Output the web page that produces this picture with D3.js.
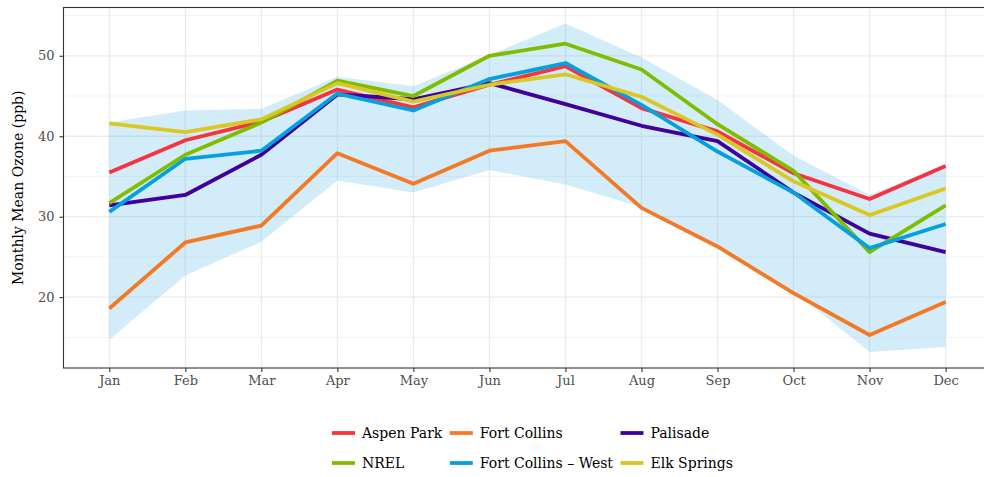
<!DOCTYPE html>
<html><head><meta charset="utf-8">
<script src="https://cdn.jsdelivr.net/npm/d3@7"></script>
<style>
html,body{margin:0;padding:0;background:#fff;}
svg{display:block;}
text{font-family:"DejaVu Serif",serif;}
</style></head>
<body>
<svg id="chart" width="984" height="477"></svg>
<script>
const months = ["Jan","Feb","Mar","Apr","May","Jun","Jul","Aug","Sep","Oct","Nov","Dec"];
const seriesNames = ["Aspen Park","Fort Collins","Palisade","NREL","Fort Collins – West","Elk Springs"];
const seriesColors = ["#f7333e","#f27a24","#40009b","#80bc00","#05a0de","#dac822"];
const aspenPark   = [35.5,39.5,41.8,45.8,43.6,46.4,48.7,43.5,40.6,35.4,32.2,36.3];
const fortCollins = [18.6,26.8,28.9,37.9,34.1,38.2,39.4,31.1,26.3,20.5,15.3,19.4];
const palisade    = [31.4,32.7,37.7,45.2,44.6,46.6,44.0,41.3,39.4,33.0,27.9,25.6];
const nrel        = [31.7,37.7,41.7,46.9,45.0,50.0,51.5,48.3,41.5,35.7,25.6,31.4];
const fcWest      = [30.6,37.2,38.2,45.3,43.2,47.1,49.1,43.9,38.1,33.0,26.1,29.1];
const elkSprings  = [41.6,40.5,42.1,46.6,44.3,46.4,47.7,44.9,40.2,34.4,30.2,33.5];
const bandUpper   = [41.7,43.2,43.4,47.4,46.2,50.1,54.0,49.8,44.5,37.6,32.7,36.5];
const bandLower   = [14.7,22.7,26.9,34.5,33.0,35.8,34.0,31.2,26.4,20.8,13.2,13.8];
const yMajorTicks = [20,30,40,50];
const yMinorTicks = [15,25,35,45,55];
const yTitle = "Monthly Mean Ozone (ppb)";

const seriesValues = [aspenPark,fortCollins,palisade,nrel,fcWest,elkSprings];
const FONT = "'DejaVu Serif', serif";

const svg = d3.select("#chart");
const panel = {left:63.5, top:7.5, right:991, bottom:368};

const x = d3.scalePoint().domain(months).range([109.3,945.6]);
const y = d3.scaleLinear().domain([11.2,56.0]).range([panel.bottom,panel.top]);

// grid
const g = svg.append("g");
g.selectAll(".minor").data(yMinorTicks).enter().append("line")
  .attr("x1",panel.left).attr("x2",panel.right)
  .attr("y1",d=>y(d)).attr("y2",d=>y(d))
  .attr("stroke","#f0f0f0").attr("stroke-width",0.8);
g.selectAll(".major").data(yMajorTicks).enter().append("line")
  .attr("x1",panel.left).attr("x2",panel.right)
  .attr("y1",d=>y(d)).attr("y2",d=>y(d))
  .attr("stroke","#ebebeb").attr("stroke-width",1.3);
g.selectAll(".vmajor").data(months).enter().append("line")
  .attr("x1",d=>x(d)).attr("x2",d=>x(d))
  .attr("y1",panel.top).attr("y2",panel.bottom)
  .attr("stroke","#ebebeb").attr("stroke-width",1.3);

// band
const area = d3.area()
  .x((d,i)=>x(months[i]))
  .y0((d,i)=>y(bandLower[i]))
  .y1((d,i)=>y(bandUpper[i]));
svg.append("path").datum(months).attr("d",area)
  .attr("fill","#56B4E9").attr("fill-opacity",0.26);

// lines
const line = d3.line().x((d,i)=>x(months[i])).y(d=>y(d));
seriesValues.forEach((vals,k)=>{
  svg.append("path").datum(vals).attr("d",line)
    .attr("fill","none").attr("stroke",seriesColors[k])
    .attr("stroke-width",3.8).attr("stroke-linejoin","round").attr("stroke-linecap","butt");
});

// panel border
svg.append("rect").attr("x",panel.left).attr("y",panel.top)
  .attr("width",panel.right-panel.left).attr("height",panel.bottom-panel.top)
  .attr("fill","none").attr("stroke","#333").attr("stroke-width",1.1);

// axes
const yAxis = svg.append("g").attr("transform",`translate(${panel.left},0)`)
  .call(d3.axisLeft(y).tickValues(yMajorTicks).tickSize(4).tickPadding(5));
const xAxis = svg.append("g").attr("transform",`translate(0,${panel.bottom})`)
  .call(d3.axisBottom(x).tickSize(4).tickPadding(4));
[yAxis,xAxis].forEach(a=>{
  a.attr("font-family",FONT);
  a.select(".domain").remove();
  a.selectAll(".tick line").attr("stroke","#333").attr("stroke-width",1.1);
  a.selectAll(".tick text").attr("fill","#4d4d4d").style("font-size","13px")
    .style("font-family",FONT);
});

// y title
svg.append("text").attr("transform",`translate(23,${(panel.top+panel.bottom)/2}) rotate(-90)`)
  .attr("text-anchor","middle").style("font-size","14px").style("font-family",FONT).attr("fill","#000")
  .text(yTitle);

// legend
const legend = svg.append("g");
const rows = [[0,1,2],[3,4,5]];
const LFS = "14px";
const tmp = svg.append("text").style("font-size",LFS).style("font-family",FONT);
const widths = seriesNames.map(n=>{tmp.text(n);return tmp.node().getComputedTextLength();});
tmp.remove();
const keyW = 23, keyGap = 7, colGap = 7.5;
const colW = [0,1,2].map(c=>keyW+keyGap+Math.max(widths[c],widths[c+3]));
const totalW = colW[0]+colW[1]+colW[2]+2*colGap;
const lx0 = 532.5 - totalW/2;
const colX = [lx0, lx0+colW[0]+colGap, lx0+colW[0]+colW[1]+2*colGap];
const rowY = [433,463];
rows.forEach((r,ri)=>r.forEach((k,ci)=>{
  legend.append("line").attr("x1",colX[ci]).attr("x2",colX[ci]+keyW)
    .attr("y1",rowY[ri]).attr("y2",rowY[ri])
    .attr("stroke",seriesColors[k]).attr("stroke-width",3.8);
  legend.append("text").attr("x",colX[ci]+keyW+keyGap).attr("y",rowY[ri])
    .attr("dy","0.35em").style("font-size",LFS).style("font-family",FONT).attr("fill","#000")
    .text(seriesNames[k]);
}));
</script>
</body></html>
